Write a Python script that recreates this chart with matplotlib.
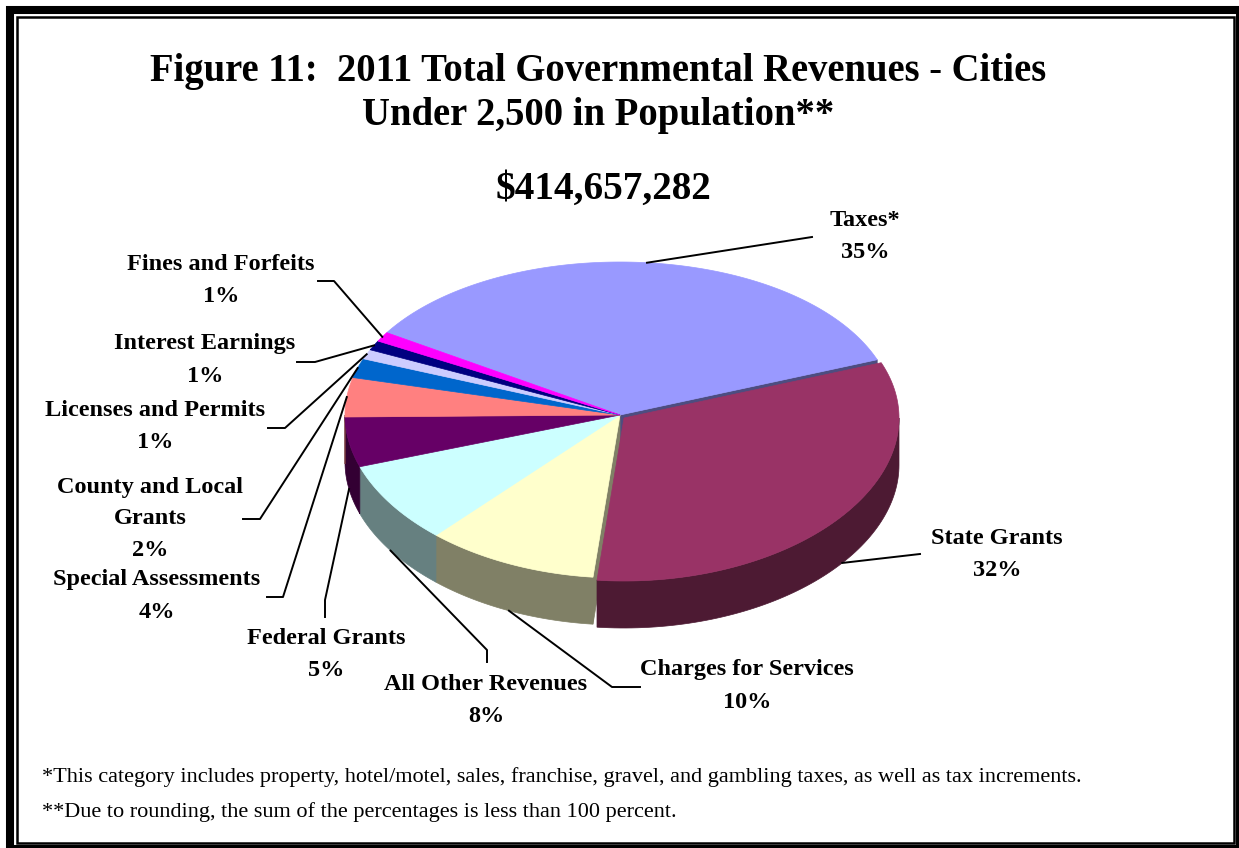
import numpy as np
import matplotlib
matplotlib.use("Agg")
import matplotlib.pyplot as plt
from matplotlib.patches import Polygon, Rectangle
from matplotlib.colors import to_rgb

plt.rcParams['font.family'] = ['Liberation Serif', 'DejaVu Serif']

# data (percent of total revenue)
categories = ['Taxes*', 'State Grants', 'Charges for Services', 'All Other Revenues',
              'Federal Grants', 'Special Assessments', 'County and Local\nGrants',
              'Licenses and Permits', 'Interest Earnings', 'Fines and Forfeits']
percents = [35, 32, 10, 8, 5, 4, 2, 1, 1, 1]
colors = ['#9999FF', '#993366', '#FFFFCC', '#CCFFFF', '#660066',
          '#FF8080', '#0066CC', '#CCCCFF', '#000080', '#FF00FF']
total = '$414,657,282'

# layout (pixels, y down)
cx, cy = 620, 415          # apex of the pie
rx, ry, ry_tilt = 275, 158, 5
depth = 47
start_angle = 148
explode = {1: (4, 3)}      # State Grants pulled out

# label centre (x, y of first line), leader elbow, leader end
label_pos = [(865, 220), (997, 539), (747, 670), (486, 685), (326, 638),
             (157, 580), (150, 487), (155, 410), (205, 344), (221, 265)]
leader = [[(812, 237)], [(920, 554)], [(612, 687), (640, 687)], [(487, 650), (487, 662)],
          [(325, 600), (325, 617)], [(283, 597), (267, 597)], [(260, 519), (243, 519)],
          [(285, 428), (268, 428)], [(315, 362), (297, 362)], [(334, 281), (318, 281)]]


def rim(t, off=(0, 0)):
    t = np.radians(t)
    r_y = ry - ry_tilt * np.sin(t)
    return np.column_stack([cx + off[0] + rx * np.cos(t), cy + off[1] - r_y * np.sin(t)])


def darker(c):
    return tuple(v * 0.5 for v in to_rgb(c))


fig = plt.figure(figsize=(12.39, 8.48), dpi=100)
ax = fig.add_axes([0, 0, 1, 1])
ax.set_xlim(0, 1239)
ax.set_ylim(848, 0)
ax.axis('off')

# frame
ax.add_patch(Rectangle((9.5, 9.5), 1230.5, 839.5, fill=False, lw=5.8, ec='black', clip_on=False))
ax.add_patch(Rectangle((17, 17), 1216.5, 826, fill=False, lw=1.8, ec='black', clip_on=False))

fr = np.array(percents, float) / sum(percents)
ends = start_angle - 360 * np.cumsum(fr)
starts = np.concatenate([[start_angle], ends[:-1]])


def draw_slice(i, z):
    off = explode.get(i, (0, 0))
    a0, a1 = starts[i], ends[i]
    col = colors[i]
    dk = darker(col)
    # outer wall on the front half
    for k in (-360, 0, 360):
        lo, hi = max(a1, -180 + k), min(a0, k)
        if hi > lo:
            t = np.linspace(hi, lo, 80)
            top = rim(t, off)
            bot = top + [0, depth]
            ax.add_patch(Polygon(np.vstack([top, bot[::-1]]), closed=True, fc=dk, ec=dk, lw=0.5, zorder=z))
    # top face
    t = np.linspace(a0, a1, 200)
    pts = np.vstack([[cx + off[0], cy + off[1]], rim(t, off)])
    ax.add_patch(Polygon(pts, closed=True, fc=col, ec=col, lw=0.5, zorder=z + 1))


# cut faces left open by the exploded slice
for i, ang in ((0, ends[0]), (2, starts[2])):
    p = rim(np.array([ang]))[0]
    quad = [(cx, cy), tuple(p), (p[0], p[1] + depth), (cx, cy + depth)]
    dk = darker(colors[i])
    ax.add_patch(Polygon(quad, closed=True, fc=dk, ec=dk, lw=0.5, zorder=1))

for i in range(len(percents)):
    if i not in explode:
        draw_slice(i, 2)
for i in explode:
    draw_slice(i, 4)

# labels and leader lines
for i, name in enumerate(categories):
    off = explode.get(i, (0, 0))
    mid = (starts[i] + ends[i]) / 2
    a = rim(np.array([mid]), off)[0]
    if np.sin(np.radians(mid)) < 0:
        a = a + [0, depth]
    path = np.vstack([a, leader[i]])
    ax.plot(path[:, 0], path[:, 1], color='black', lw=1.4, zorder=6)
    lines = name.split('\n') + ['%d%%' % percents[i]]
    x, y = label_pos[i]
    for j, s in enumerate(lines):
        ax.text(x, y + 32 * j, s, ha='center', va='center', fontsize=17.5, fontweight='bold', zorder=7)

# titles
ax.text(598, 71, 'Figure 11:  2011 Total Governmental Revenues - Cities', ha='center', va='center',
        fontsize=27.8, fontweight='bold')
ax.text(598, 116, 'Under 2,500 in Population**', ha='center', va='center', fontsize=27.8, fontweight='bold')
ax.text(603, 189, total, ha='center', va='center', fontsize=28.3, fontweight='bold')

ax.text(42, 777, '*This category includes property, hotel/motel, sales, franchise, gravel, and gambling taxes, '
        'as well as tax increments.', ha='left', va='center', fontsize=16)
ax.text(42, 812, '**Due to rounding, the sum of the percentages is less than 100 percent.',
        ha='left', va='center', fontsize=16)

fig.savefig('out.png', dpi=100)
